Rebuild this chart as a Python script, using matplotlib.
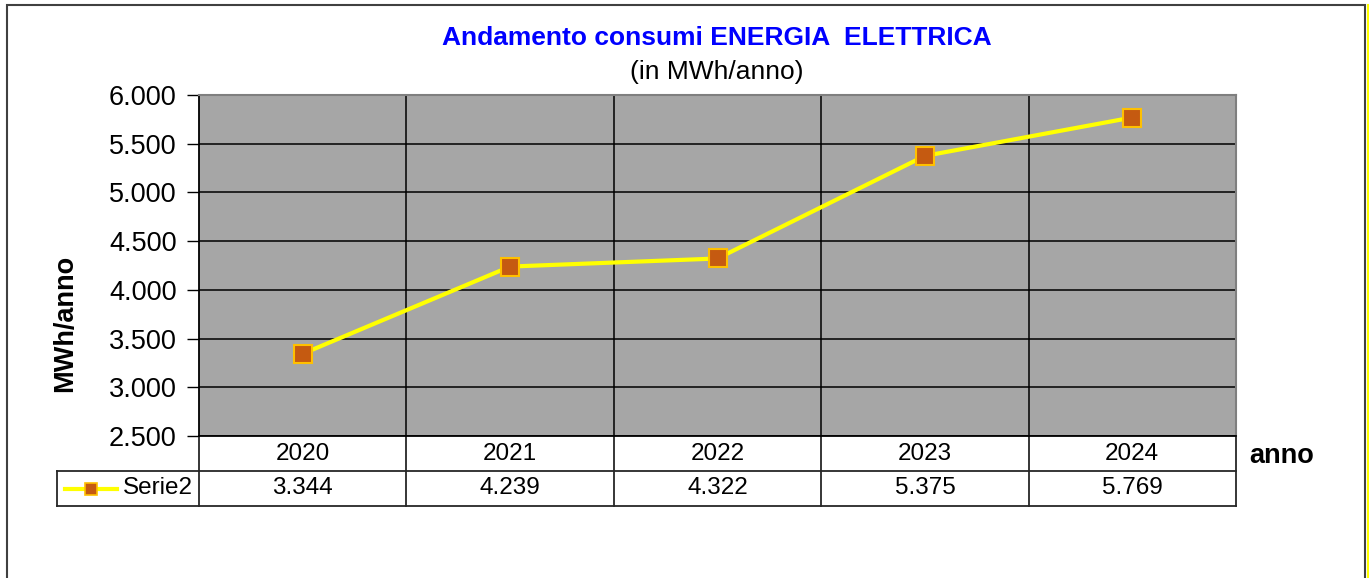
import numpy as np
import matplotlib.pyplot as plt
from matplotlib.patches import Rectangle
from matplotlib.lines import Line2D
import matplotlib.transforms as mtransforms

plt.rcParams['font.family'] = ['Liberation Sans', 'DejaVu Sans']

anni = ['2020', '2021', '2022', '2023', '2024']
consumi = [3344, 4239, 4322, 5375, 5769]
serie = 'Serie2'
yticks = [2500, 3000, 3500, 4000, 4500, 5000, 5500, 6000]


def fmt_it(v):
    return f'{v:,.0f}'.replace(',', '.')


W, H = 1370, 578
fig = plt.figure(figsize=(W / 100, H / 100), dpi=100)

# outer chart frame
fig.patches.append(Rectangle((7 / W, -0.05), (1365 - 7) / W, 1.05 - 5 / H,
                             transform=fig.transFigure, fill=False,
                             edgecolor='#404040', linewidth=1.5))
fig.add_artist(Line2D([1367.5 / W, 1367.5 / W], [0, 1 - 5 / H],
                      transform=fig.transFigure, color='#FFFF00', lw=1.5))

left, right, top, bottom = 199, 1236, 95, 436
ax = fig.add_axes([left / W, 1 - bottom / H, (right - left) / W, (bottom - top) / H])
ax.set_facecolor('#A6A6A6')

x = np.arange(len(anni))
ax.set_xlim(-0.5, len(anni) - 0.5)
ax.set_ylim(2500, 6000)
ax.set_yticks(yticks)
ax.set_yticklabels([fmt_it(v) for v in yticks], fontsize=19.5)
ax.set_xticks([])
ax.tick_params(axis='y', length=9, width=1, color='black', pad=7)
ax.grid(axis='y', color='black', lw=1.1)
for b in np.arange(0.5, len(anni) - 0.5, 1):
    ax.axvline(b, color='black', lw=1.1)
for s in ['top', 'right']:
    ax.spines[s].set_color('#7F7F7F')
    ax.spines[s].set_linewidth(1.5)
ax.spines['left'].set_color('black')
ax.spines['bottom'].set_color('black')
ax.spines['left'].set_linewidth(1.3)
ax.spines['bottom'].set_linewidth(1.3)
ax.set_axisbelow(True)

ax.plot(x, consumi, color='#FFFF00', lw=3, marker='s', markersize=12.5,
        markerfacecolor='#C55A11', markeredgecolor='#FFC000',
        markeredgewidth=1.5, zorder=5)

# data table under the plot
tr = mtransforms.blended_transform_factory(ax.transData, ax.transAxes)
ph = bottom - top
row_h = 35 / ph
cw = (right - left) / len(anni)
x_leg = -0.5 - (left - 57) / cw
kw = dict(transform=tr, clip_on=False, color='#262626', lw=1.3)
ax.plot([-0.5, 4.5], [-row_h, -row_h], **kw)
ax.plot([x_leg, 4.5], [-2 * row_h, -2 * row_h], **kw)
ax.plot([x_leg, -0.5], [-row_h, -row_h], **kw)
ax.plot([x_leg, x_leg], [-row_h, -2 * row_h], **kw)
for b in np.arange(-0.5, len(anni), 1):
    ax.plot([b, b], [0, -2 * row_h], **kw)
for i, (a, v) in enumerate(zip(anni, consumi)):
    ax.text(i, -0.5 * row_h, a, transform=tr, ha='center', va='center',
            fontsize=17.5)
    ax.text(i, -1.5 * row_h, fmt_it(v), transform=tr, ha='center',
            va='center', fontsize=17.5)
lx0 = x_leg + 8 / cw
lx1 = x_leg + 60 / cw
ax.plot([lx0, lx1], [-1.5 * row_h] * 2, transform=tr, clip_on=False,
        color='#FFFF00', lw=3)
ax.plot([(lx0 + lx1) / 2], [-1.5 * row_h], transform=tr, clip_on=False,
        marker='s', markersize=9, markerfacecolor='#C55A11',
        markeredgecolor='#FFC000', markeredgewidth=1.2)
ax.text(x_leg + 66 / cw, -1.5 * row_h, serie, transform=tr, ha='left',
        va='center', fontsize=17.5)

# titles and axis labels
fig.text(717 / W, 1 - 38 / H, 'Andamento consumi ENERGIA  ELETTRICA',
         ha='center', va='center', fontsize=19, fontweight='bold',
         color='#0000FF')
fig.text(717 / W, 1 - 72 / H, '(in MWh/anno)', ha='center', va='center',
         fontsize=19)
fig.text(65 / W, 1 - 323 / H, 'MWh/anno', ha='center', va='center',
         rotation=90, fontsize=19.5, fontweight='bold')
fig.text(1249 / W, 1 - 456 / H, 'anno', ha='left', va='center',
         fontsize=19.5, fontweight='bold')

fig.savefig('out.png', dpi=100, facecolor='white')
